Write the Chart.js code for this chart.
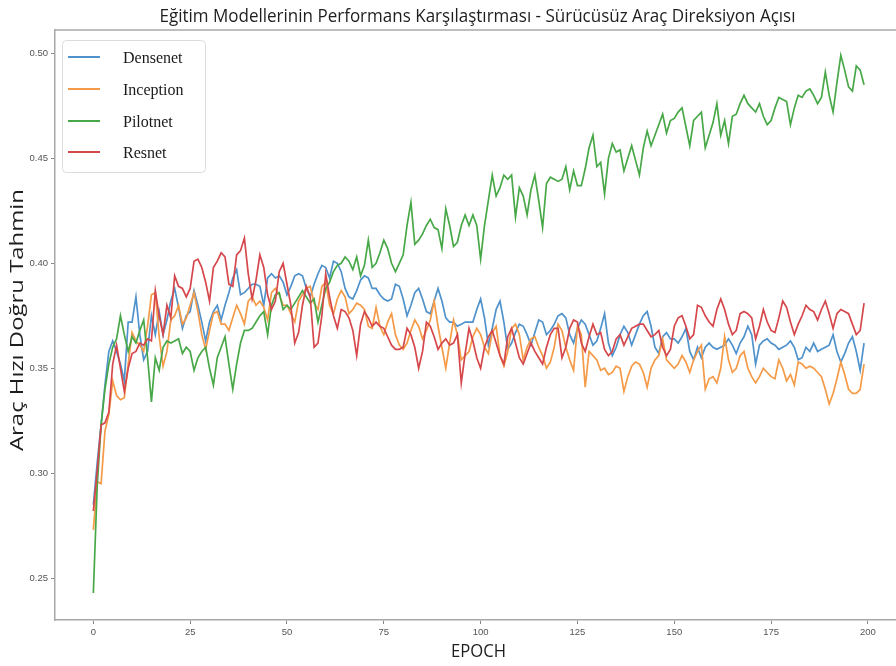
<!DOCTYPE html>
<html>
<head>
<meta charset="utf-8">
<title>Eğitim Modellerinin Performans Karşılaştırması</title>
<script src="https://cdn.jsdelivr.net/npm/chart.js@4.4.0/dist/chart.umd.min.js"></script>
<style>
    body { margin: 0; background: #ffffff; }
    #wrap { width: 896px; height: 666px; }
</style>
</head>
<body>
<div id="wrap"><canvas id="perfChart" width="896" height="666"></canvas></div>
<script>
// texts
const chartTitle = 'Eğitim Modellerinin Performans Karşılaştırması - Sürücüsüz Araç Direksiyon Açısı';
const xTitle = 'EPOCH';
const yTitle = 'Araç Hızı Doğru Tahmin';
const seriesNames = ['Densenet', 'Inception', 'Pilotnet', 'Resnet'];

// tick labels
const xTicks = [0, 25, 50, 75, 100, 125, 150, 175, 200];
const yTicks = [0.25, 0.30, 0.35, 0.40, 0.45, 0.50];

// epoch index 0..199
const epochs = Array.from({ length: 200 }, (_, i) => i);

// values, one per epoch
const densenet = [
    0.285, 0.305, 0.323, 0.342, 0.358, 0.363, 0.358, 0.352, 0.344, 0.372,
    0.372, 0.384, 0.366, 0.354, 0.358, 0.375, 0.366, 0.377, 0.366, 0.373,
    0.382, 0.388, 0.379, 0.369, 0.375, 0.377, 0.387, 0.380, 0.372, 0.363,
    0.372, 0.377, 0.380, 0.373, 0.380, 0.386, 0.393, 0.397, 0.385, 0.386,
    0.388, 0.390, 0.390, 0.389, 0.380, 0.393, 0.395, 0.393, 0.394, 0.391,
    0.385, 0.389, 0.394, 0.395, 0.394, 0.388, 0.384, 0.390, 0.395, 0.399,
    0.398, 0.393, 0.401, 0.400, 0.396, 0.388, 0.384, 0.383, 0.387, 0.392,
    0.394, 0.393, 0.388, 0.388, 0.385, 0.383, 0.382, 0.383, 0.390, 0.389,
    0.383, 0.375, 0.380, 0.386, 0.388, 0.383, 0.377, 0.376, 0.382, 0.388,
    0.382, 0.374, 0.372, 0.372, 0.370, 0.371, 0.372, 0.372, 0.372, 0.378,
    0.383, 0.374, 0.361, 0.369, 0.378, 0.382, 0.372, 0.359, 0.362, 0.367,
    0.371, 0.370, 0.366, 0.361, 0.367, 0.373, 0.372, 0.366, 0.368, 0.371,
    0.375, 0.376, 0.374, 0.366, 0.362, 0.369, 0.373, 0.371, 0.366, 0.361,
    0.363, 0.369, 0.376, 0.362, 0.356, 0.360, 0.366, 0.370, 0.367, 0.361,
    0.366, 0.371, 0.375, 0.377, 0.370, 0.360, 0.357, 0.365, 0.367, 0.364,
    0.364, 0.362, 0.365, 0.369, 0.358, 0.354, 0.360, 0.355, 0.360, 0.362,
    0.360, 0.359, 0.360, 0.361, 0.364, 0.361, 0.357, 0.362, 0.365, 0.370,
    0.366, 0.352, 0.361, 0.363, 0.364, 0.362, 0.361, 0.359, 0.360, 0.361,
    0.363, 0.360, 0.354, 0.355, 0.360, 0.358, 0.362, 0.358, 0.359, 0.360,
    0.361, 0.366, 0.358, 0.353, 0.357, 0.362, 0.365, 0.358, 0.349, 0.362
];
const inception = [
    0.273, 0.296, 0.295, 0.320, 0.328, 0.344, 0.337, 0.335, 0.336, 0.352,
    0.367, 0.363, 0.361, 0.358, 0.370, 0.385, 0.386, 0.365, 0.351, 0.358,
    0.373, 0.375, 0.380, 0.371, 0.374, 0.380, 0.386, 0.377, 0.366, 0.359,
    0.368, 0.376, 0.377, 0.371, 0.371, 0.368, 0.374, 0.380, 0.376, 0.371,
    0.382, 0.384, 0.380, 0.382, 0.379, 0.373, 0.386, 0.388, 0.385, 0.380,
    0.380, 0.376, 0.372, 0.382, 0.385, 0.388, 0.389, 0.381, 0.378, 0.389,
    0.391, 0.380, 0.376, 0.383, 0.387, 0.384, 0.376, 0.378, 0.381, 0.380,
    0.378, 0.370, 0.369, 0.379, 0.370, 0.366, 0.372, 0.376, 0.366, 0.361,
    0.359, 0.362, 0.368, 0.373, 0.370, 0.364, 0.368, 0.373, 0.382, 0.370,
    0.360, 0.350, 0.362, 0.373, 0.366, 0.354, 0.356, 0.358, 0.365, 0.369,
    0.366, 0.360, 0.357, 0.367, 0.370, 0.356, 0.351, 0.358, 0.369, 0.371,
    0.366, 0.354, 0.360, 0.364, 0.365, 0.360, 0.356, 0.350, 0.353, 0.360,
    0.371, 0.368, 0.360, 0.354, 0.349, 0.370, 0.366, 0.341, 0.358, 0.356,
    0.354, 0.349, 0.350, 0.347, 0.348, 0.351, 0.350, 0.339, 0.346, 0.351,
    0.353, 0.352, 0.348, 0.341, 0.350, 0.354, 0.356, 0.364, 0.354, 0.352,
    0.350, 0.352, 0.356, 0.353, 0.348, 0.354, 0.358, 0.361, 0.340, 0.345,
    0.346, 0.343, 0.350, 0.365, 0.354, 0.348, 0.350, 0.356, 0.358, 0.350,
    0.346, 0.343, 0.346, 0.350, 0.348, 0.346, 0.345, 0.354, 0.350, 0.344,
    0.347, 0.342, 0.353, 0.352, 0.350, 0.351, 0.350, 0.348, 0.346, 0.340,
    0.333, 0.338, 0.345, 0.353, 0.347, 0.340, 0.338, 0.338, 0.340, 0.352
];
const pilotnet = [
    0.243, 0.294, 0.323, 0.340, 0.352, 0.360, 0.364, 0.375, 0.366, 0.358,
    0.365, 0.362, 0.368, 0.373, 0.355, 0.334, 0.355, 0.349, 0.360, 0.363,
    0.362, 0.363, 0.364, 0.357, 0.360, 0.358, 0.349, 0.355, 0.358, 0.360,
    0.350, 0.342, 0.355, 0.360, 0.365, 0.352, 0.340, 0.352, 0.362, 0.368,
    0.368, 0.369, 0.372, 0.375, 0.377, 0.366, 0.380, 0.385, 0.386, 0.378,
    0.380, 0.378, 0.381, 0.384, 0.387, 0.384, 0.381, 0.383, 0.372, 0.380,
    0.388, 0.391, 0.396, 0.399, 0.400, 0.403, 0.401, 0.397, 0.403, 0.394,
    0.399, 0.411, 0.398, 0.400, 0.405, 0.411, 0.407, 0.400, 0.396, 0.400,
    0.404, 0.418, 0.429, 0.409, 0.411, 0.414, 0.418, 0.421, 0.417, 0.416,
    0.407, 0.426, 0.418, 0.408, 0.410, 0.418, 0.423, 0.418, 0.423, 0.418,
    0.402, 0.418, 0.430, 0.442, 0.432, 0.436, 0.442, 0.440, 0.442, 0.422,
    0.436, 0.432, 0.423, 0.435, 0.442, 0.430, 0.417, 0.438, 0.441, 0.440,
    0.439, 0.440, 0.446, 0.435, 0.444, 0.437, 0.437, 0.445, 0.455, 0.461,
    0.446, 0.448, 0.433, 0.450, 0.457, 0.453, 0.454, 0.444, 0.450, 0.456,
    0.449, 0.442, 0.455, 0.463, 0.456, 0.461, 0.466, 0.471, 0.462, 0.468,
    0.469, 0.472, 0.474, 0.465, 0.456, 0.468, 0.470, 0.472, 0.455, 0.461,
    0.467, 0.476, 0.461, 0.468, 0.457, 0.470, 0.471, 0.476, 0.480, 0.476,
    0.474, 0.472, 0.476, 0.470, 0.466, 0.468, 0.474, 0.479, 0.478, 0.477,
    0.466, 0.474, 0.480, 0.479, 0.482, 0.483, 0.480, 0.476, 0.479, 0.491,
    0.480, 0.472, 0.486, 0.499, 0.492, 0.484, 0.482, 0.494, 0.492, 0.485
];
const resnet = [
    0.282, 0.301, 0.323, 0.324, 0.329, 0.352, 0.361, 0.350, 0.339, 0.350,
    0.357, 0.358, 0.362, 0.361, 0.364, 0.363, 0.387, 0.375, 0.366, 0.380,
    0.374, 0.394, 0.389, 0.388, 0.384, 0.388, 0.401, 0.402, 0.398, 0.391,
    0.382, 0.398, 0.401, 0.405, 0.403, 0.390, 0.389, 0.404, 0.406, 0.412,
    0.395, 0.383, 0.392, 0.404, 0.398, 0.385, 0.378, 0.382, 0.396, 0.400,
    0.390, 0.380, 0.362, 0.367, 0.380, 0.389, 0.384, 0.360, 0.362, 0.375,
    0.395, 0.384, 0.375, 0.369, 0.378, 0.377, 0.374, 0.368, 0.356, 0.371,
    0.377, 0.374, 0.370, 0.372, 0.370, 0.369, 0.365, 0.361, 0.359, 0.359,
    0.360, 0.369, 0.366, 0.360, 0.350, 0.358, 0.372, 0.370, 0.365, 0.359,
    0.362, 0.364, 0.361, 0.362, 0.366, 0.343, 0.357, 0.369, 0.363, 0.355,
    0.350, 0.360, 0.365, 0.368, 0.362, 0.356, 0.352, 0.365, 0.369, 0.362,
    0.355, 0.352, 0.357, 0.362, 0.358, 0.355, 0.352, 0.360, 0.366, 0.369,
    0.369, 0.355, 0.360, 0.369, 0.373, 0.372, 0.362, 0.358, 0.365, 0.371,
    0.366, 0.367, 0.359, 0.356, 0.358, 0.364, 0.366, 0.361, 0.365, 0.369,
    0.370, 0.371, 0.371, 0.368, 0.365, 0.366, 0.368, 0.360, 0.356, 0.359,
    0.370, 0.374, 0.375, 0.370, 0.364, 0.366, 0.380, 0.379, 0.375, 0.372,
    0.370, 0.378, 0.383, 0.378, 0.371, 0.366, 0.368, 0.376, 0.377, 0.376,
    0.374, 0.364, 0.370, 0.378, 0.372, 0.368, 0.367, 0.374, 0.382, 0.379,
    0.372, 0.366, 0.371, 0.375, 0.380, 0.378, 0.377, 0.373, 0.378, 0.382,
    0.376, 0.369, 0.376, 0.378, 0.377, 0.376, 0.371, 0.366, 0.368, 0.381
];

const seriesValues = [densenet, inception, pilotnet, resnet];
const seriesColors = ['#4f92cc', '#f59a47', '#48a848', '#d6474b'];

// the picture is squeezed sideways, so texts are fitted to a measured width
function drawFitted(ctx, text, x, y, font, width, rotate) {
    ctx.save();
    ctx.font = font;
    const w = ctx.measureText(text).width;
    ctx.translate(x, y);
    if (rotate) ctx.rotate(-Math.PI / 2);
    ctx.scale(width / w, 1);
    ctx.textAlign = 'center';
    ctx.textBaseline = 'middle';
    ctx.fillStyle = '#1e1e1e';
    ctx.fillText(text, 0, 0);
    ctx.restore();
}

const decorPlugin = {
    id: 'decor',
    beforeDatasetsDraw(chart) {
        const { ctx, chartArea } = chart;
        // top spine
        ctx.save();
        ctx.strokeStyle = '#a8a8a8';
        ctx.lineWidth = 1.5;
        ctx.beginPath();
        ctx.moveTo(chartArea.left, chartArea.top);
        ctx.lineTo(chartArea.right, chartArea.top);
        ctx.stroke();
        ctx.restore();
    },
    afterDatasetsDraw(chart) {
        const { ctx, chartArea } = chart;
        const cx = (chartArea.left + chartArea.right) / 2 + 2;

        drawFitted(ctx, chartTitle, cx, 17, '18px "Open Sans"', 636, false);
        drawFitted(ctx, xTitle, cx + 1, 652, '19px "Open Sans"', 55, false);
        drawFitted(ctx, yTitle, 18, 320, '19px "Open Sans"', 262, true);

        // legend box
        ctx.save();
        ctx.fillStyle = 'rgba(255,255,255,0.85)';
        ctx.strokeStyle = '#dcdcdc';
        ctx.lineWidth = 1;
        ctx.beginPath();
        ctx.roundRect(62.5, 40.5, 143, 132, 4);
        ctx.fill();
        ctx.stroke();

        const rows = [57, 89, 121, 152];
        ctx.font = '16px "Liberation Serif"';
        ctx.textBaseline = 'middle';
        ctx.textAlign = 'left';
        seriesNames.forEach((name, i) => {
            ctx.strokeStyle = seriesColors[i];
            ctx.lineWidth = 2;
            ctx.beginPath();
            ctx.moveTo(68, rows[i]);
            ctx.lineTo(100, rows[i]);
            ctx.stroke();
            ctx.fillStyle = '#1a1a1a';
            ctx.fillText(name, 123, rows[i] + 2);
        });
        ctx.restore();
    }
};

const datasets = seriesNames.map((name, i) => ({
    label: name,
    data: epochs.map((e, j) => ({ x: e, y: seriesValues[i][j] })),
    borderColor: seriesColors[i],
    borderWidth: 1.7,
    pointRadius: 0,
    tension: 0,
    fill: false,
    // matplotlib order: later series sit on top
    order: seriesNames.length - i
}));

const tickFont = { family: '"Liberation Sans", Arial, sans-serif', size: 9.5 };

const perfChart = new Chart(document.getElementById('perfChart'), {
    type: 'line',
    data: { datasets: datasets },
    options: {
        responsive: false,
        animation: false,
        layout: { padding: { top: 30, left: 0, right: 0, bottom: 0 } },
        plugins: {
            legend: { display: false },
            title: { display: false },
            tooltip: { enabled: false }
        },
        scales: {
            x: {
                type: 'linear',
                min: -9.9,
                max: 207.25,
                afterBuildTicks: scale => { scale.ticks = xTicks.map(v => ({ value: v })); },
                afterFit: scale => { scale.height = 46; },
                grid: { display: true, drawOnChartArea: false, drawTicks: true, tickLength: 4, color: '#8a8a8a' },
                border: { display: true, color: '#a8a8a8', width: 1.5 },
                ticks: { font: tickFont, color: '#555', padding: 3, maxRotation: 0, callback: v => String(v) }
            },
            y: {
                min: 0.2301,
                max: 0.5111,
                afterBuildTicks: scale => { scale.ticks = yTicks.map(v => ({ value: v })); },
                afterFit: scale => { scale.width = 55; },
                grid: { display: true, drawOnChartArea: false, drawTicks: true, tickLength: 4, color: '#8a8a8a' },
                border: { display: true, color: '#a8a8a8', width: 1.5 },
                ticks: { font: tickFont, color: '#555', padding: 3, callback: v => v.toFixed(2) }
            }
        }
    },
    plugins: [decorPlugin]
});
</script>
</body>
</html>
